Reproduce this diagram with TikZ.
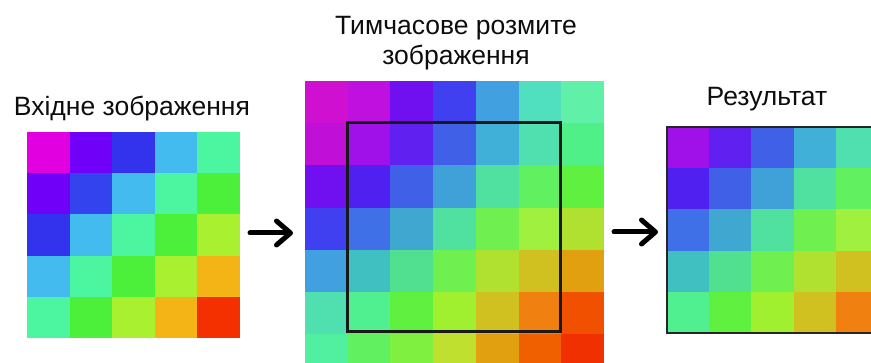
\documentclass[tikz,border=0pt]{standalone}
\usepackage{fontspec}
\setmainfont{Liberation Sans}
\usetikzlibrary{arrows.meta}
\newcommand\paintgrid[5]{%
  \foreach \row [count=\r from 0] in {#5} {%
    \foreach \c [count=\k from 0] in \row {%
      \definecolor{cc}{HTML}{\c}%
      \fill[cc] ({#1+\k*#3},{#2+\r*#4}) rectangle ++({#3+0.4},{#4+0.4});
    }%
  }%
}
\begin{document}
\begin{tikzpicture}[x=1pt,y=-1pt,
  lbl/.style={font=\fontsize{26.5}{30}\selectfont, text=black!95, inner sep=0pt, anchor=base},
  arr/.style={line width=5pt, line cap=round, -{Straight Barb[length=14pt,width=24pt,round]}},
  framebox/.style={draw=black!90, line width=3pt},
  ]
\clip (0,0) rectangle (871,363);
\fill[white] (0,0) rectangle (871,363);
% input image
\paintgrid{27}{132}{42.6}{41.2}{%
 {E000E0,7000F8,3333EE,44BBEE,4CF5A0},%
 {7000F8,3344EE,44BBEE,4CF5A0,4CF03A},%
 {3333EE,44BBEE,4CF5A0,4CF03A,A8F030},%
 {44BBEE,4CF5A0,4CF03A,A8F030,F5B415},%
 {4CF5A0,4CF03A,A8F030,F5B415,F53000}}
% blurred padded image
\paintgrid{305}{81}{42.7}{42.2}{%
 {D010D0,C010E0,7010F0,4040F0,40A0E0,50E0C0,60F0A8},%
 {C010D8,A010E8,6020F0,4060E8,40B0D8,50E0B0,50F088},%
 {7010F0,5020F0,4060E8,40A0D8,50E0A0,60F060,60F040},%
 {4040F0,4070E8,40A8D0,50E0A0,70F050,A0F040,B0E030},%
 {40A0E0,40C0C0,50E090,70F050,B0E030,D0C020,E0A010},%
 {50E0B0,50F090,60F040,A0F030,D0C020,F08010,F05000},%
 {50F0A0,60F060,80F040,C0E030,E0A010,F06000,F03000}}
\draw[framebox] (347.5,122.5) rectangle (560.5,332);
% result
\paintgrid{667}{127}{42.2}{41.2}{%
 {A010E8,6020F0,4060E8,40B0D8,50E0B0},%
 {5020F0,4060E8,40A0D8,50E0A0,60F060},%
 {4070E8,40A8D0,50E0A0,70F050,A0F040},%
 {40C0C0,50E090,70F050,B0E030,D0C020},%
 {50F090,60F040,A0F030,D0C020,F08010}}
\draw[draw=black!85, line width=2pt] (667,127) rectangle (885,333);
% labels
\node[lbl] (tin) at (132,116) {Вхідне зображення};
\node[lbl, align=center] (tblur) at (456,65) {Тимчасове розмите\\зображення};
\node[lbl] (tres) at (767,106) {Результат};
% arrows
\coordinate (a1s) at (250,233);
\coordinate (a1e) at (293,233);
\coordinate (a2s) at (614,232);
\coordinate (a2e) at (658,232);
\draw[arr] (a1s) -- (a1e);
\draw[arr] (a2s) -- (a2e);
\end{tikzpicture}
\end{document}
